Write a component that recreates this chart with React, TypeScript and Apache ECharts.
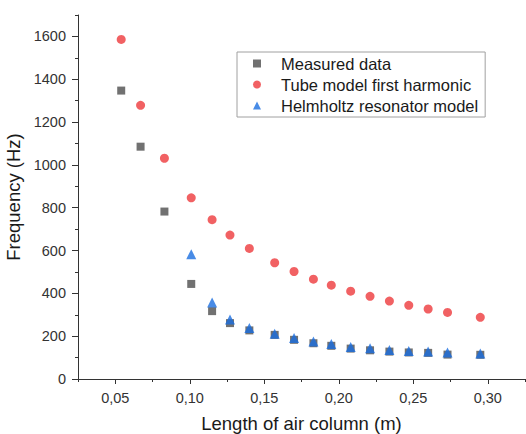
import React, { useEffect, useRef } from "react";
import * as echarts from "echarts";

const lengths = [0.054, 0.067, 0.083, 0.101, 0.115, 0.127, 0.14, 0.157, 0.17, 0.183, 0.195, 0.208, 0.221, 0.234, 0.247, 0.26, 0.273, 0.295];
const measured = [1347, 1085, 782, 444, 317, 261, 227, 206, 183, 167, 155, 142, 134, 128, 124, 122, 114, 113];
const tube = [1586, 1278, 1031, 846, 744, 672, 610, 543, 502, 466, 438, 410, 386, 364, 344, 327, 311, 288];
const helmholtz: (number | null)[] = [null, null, null, 583, 357, 278, 238, 211, 191, 175, 163, 150, 144, 136, 131, 128, 124, 119];

const xTicks = [0.05, 0.1, 0.15, 0.2, 0.25, 0.3];
const yTicks = [0, 200, 400, 600, 800, 1000, 1200, 1400, 1600];

const seriesNames = ["Measured data", "Tube model first harmonic", "Helmholtz resonator model"];

const FONT = "'Liberation Sans', Arial, sans-serif";
const AXIS = "#333333";

function pairs(xs: number[], ys: (number | null)[]) {
  const out: number[][] = [];
  xs.forEach((x, i) => {
    const y = ys[i];
    if (y !== null && y !== undefined) out.push([x, y]);
  });
  return out;
}

export default function App() {
  const ref = useRef<HTMLDivElement>(null);
  useEffect(() => {
    if (!ref.current) return;
    const chart = echarts.init(ref.current, undefined, { renderer: "svg" });
    chart.setOption({
      animation: false,
      backgroundColor: "#ffffff",
      textStyle: { fontFamily: FONT },
      grid: { left: 78, top: 15, right: 1, bottom: 55, containLabel: false, outerBoundsMode: "none" },
      legend: {
        orient: "vertical",
        left: 237,
        top: 52,
        padding: [2, 7, 2, 16],
        borderColor: "#a0a0a0",
        borderWidth: 1,
        itemWidth: 8,
        itemHeight: 8,
        itemGap: 2,
        data: seriesNames,
        formatter: (name: string) => `{t|${name}}`,
        textStyle: {
          fontSize: 16.5,
          lineHeight: 19,
          color: "#1a1a1a",
          fontFamily: FONT,
          rich: {
            t: { fontSize: 16.5, lineHeight: 19, color: "#1a1a1a", fontFamily: FONT, padding: [0, 0, 0, 15] },
          },
        },
      },
      xAxis: [
        {
          type: "value",
          min: 0.025,
          max: 0.325,
          name: "Length of air column (m)",
          nameLocation: "middle",
          nameGap: 35,
          nameTextStyle: { fontSize: 18.5, color: "#1a1a1a", fontFamily: FONT },
          axisLine: { show: true, lineStyle: { color: AXIS, width: 1 } },
          axisTick: { show: true, length: 5, customValues: xTicks, lineStyle: { color: AXIS } },
          axisLabel: {
            customValues: xTicks,
            margin: 11,
            fontSize: 14.5,
            color: "#333333",
            fontFamily: FONT,
            formatter: (v: number) => v.toFixed(2).replace(".", ","),
          },
          splitLine: { show: false },
        },
        {
          type: "value",
          position: "bottom",
          min: 0.025,
          max: 0.325,
          interval: 0.025,
          axisLine: { show: false },
          axisTick: { show: true, length: 3, lineStyle: { color: AXIS } },
          axisLabel: { show: false },
          splitLine: { show: false },
        },
      ],
      yAxis: [
        {
          type: "value",
          min: 0,
          max: 1700,
          name: "Frequency (Hz)",
          nameLocation: "middle",
          nameGap: 48,
          nameTextStyle: { fontSize: 18.5, color: "#1a1a1a", fontFamily: FONT },
          axisLine: { show: true, lineStyle: { color: AXIS, width: 1 } },
          axisTick: { show: true, length: 6, customValues: yTicks, lineStyle: { color: AXIS } },
          axisLabel: {
            customValues: yTicks,
            margin: 12,
            fontSize: 14.5,
            color: "#333333",
            fontFamily: FONT,
            formatter: (v: number) => String(v),
          },
          splitLine: { show: false },
        },
        {
          type: "value",
          position: "left",
          min: 0,
          max: 1700,
          interval: 100,
          axisLine: { show: false },
          axisTick: { show: true, length: 3, lineStyle: { color: AXIS } },
          axisLabel: { show: false },
          splitLine: { show: false },
        },
      ],
      series: [
        {
          name: seriesNames[0],
          type: "scatter",
          symbol: "rect",
          symbolSize: 8,
          itemStyle: { color: "#4d4d4d" },
          data: pairs(lengths, measured),
        },
        {
          name: seriesNames[1],
          type: "scatter",
          symbol: "circle",
          symbolSize: 9,
          itemStyle: { color: "#ee3a3c" },
          data: pairs(lengths, tube),
        },
        {
          name: seriesNames[2],
          type: "scatter",
          symbol: "triangle",
          symbolSize: 10,
          itemStyle: { color: "#1a6ee0" },
          data: pairs(lengths, helmholtz),
        },
      ],
    });
    return () => chart.dispose();
  }, []);
  return (
    <div
      ref={ref}
      style={{ position: "fixed", left: 0, top: 0, width: 526, height: 434, background: "#fff" }}
    />
  );
}
